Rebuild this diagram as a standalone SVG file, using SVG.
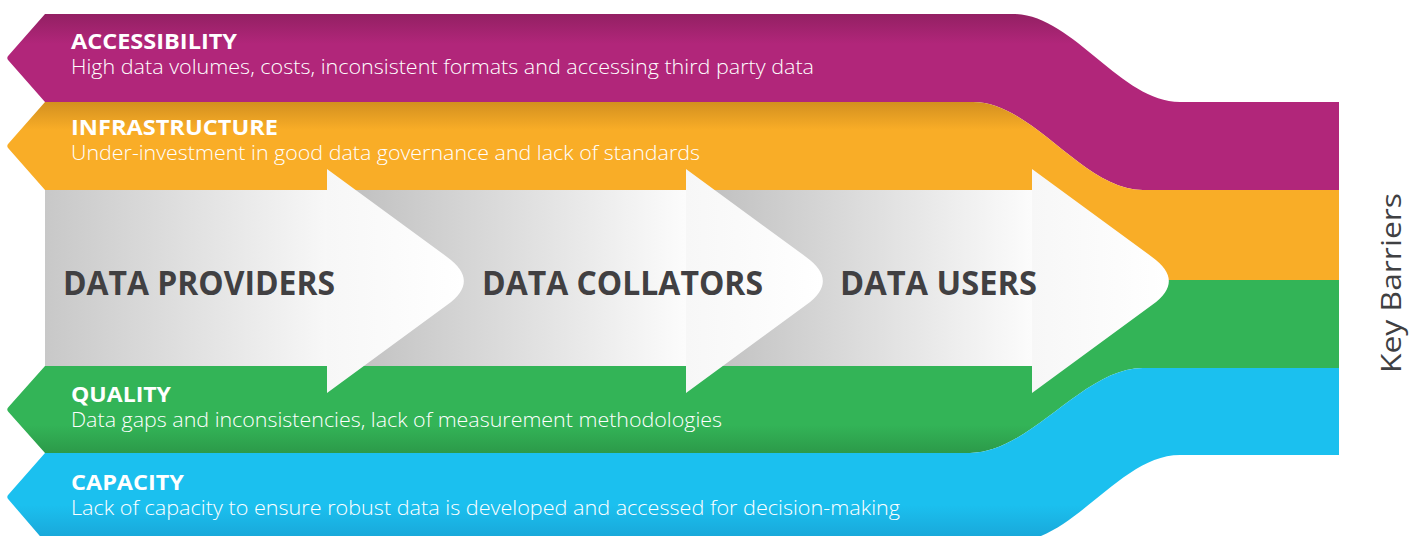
<svg xmlns="http://www.w3.org/2000/svg" width="1419" height="536" viewBox="0 0 1419 536">
  <style>
    .title { font-family: "Open Sans", "Liberation Sans", sans-serif; font-weight: 700; font-size: 21px; fill: #ffffff; }
    .desc { font-family: "Open Sans", "Liberation Sans", sans-serif; font-weight: 300; font-size: 20px; fill: #ffffff; }
    .stage { font-family: "Open Sans", "Liberation Sans", sans-serif; font-weight: 700; font-size: 34px; fill: #414042; }
    .side { font-family: "Open Sans", "Liberation Sans", sans-serif; font-weight: 500; font-size: 27px; fill: #3f4042; }
    .head { fill: url(#headFill); }
  </style>
  <defs>
    <!-- vertical shading of each barrier band -->
    <linearGradient id="magentaFill" gradientUnits="userSpaceOnUse" x1="0" y1="14" x2="0" y2="44">
      <stop offset="0" stop-color="#932063"/>
      <stop offset="1" stop-color="#b1267a"/>
    </linearGradient>
    <linearGradient id="orangeFill" gradientUnits="userSpaceOnUse" x1="0" y1="102" x2="0" y2="130">
      <stop offset="0" stop-color="#d3901f"/>
      <stop offset="1" stop-color="#f9ad27"/>
    </linearGradient>
    <linearGradient id="greenFill" gradientUnits="userSpaceOnUse" x1="0" y1="425" x2="0" y2="453">
      <stop offset="0" stop-color="#33b457"/>
      <stop offset="1" stop-color="#2c9a49"/>
    </linearGradient>
    <linearGradient id="cyanFill" gradientUnits="userSpaceOnUse" x1="0" y1="505" x2="0" y2="540">
      <stop offset="0" stop-color="#1bc0ef"/>
      <stop offset="1" stop-color="#19a6d8"/>
    </linearGradient>
    <!-- grey flow bodies -->
    <linearGradient id="body1Fill" gradientUnits="userSpaceOnUse" x1="45" y1="0" x2="330" y2="0">
      <stop offset="0" stop-color="#c8c8c8"/>
      <stop offset="1" stop-color="#f8f8f8"/>
    </linearGradient>
    <linearGradient id="body2Fill" gradientUnits="userSpaceOnUse" x1="327" y1="0" x2="686" y2="0">
      <stop offset="0" stop-color="#bcbcbc"/>
      <stop offset="1" stop-color="#fcfcfc"/>
    </linearGradient>
    <linearGradient id="body3Fill" gradientUnits="userSpaceOnUse" x1="686" y1="0" x2="1032" y2="0">
      <stop offset="0" stop-color="#bcbcbc"/>
      <stop offset="1" stop-color="#fcfcfc"/>
    </linearGradient>
    <linearGradient id="headFill" x1="0" y1="0" x2="1" y2="0">
      <stop offset="0" stop-color="#f7f7f7"/>
      <stop offset="1" stop-color="#ffffff"/>
    </linearGradient>
  </defs>

  <rect width="1419" height="536" fill="#ffffff"/>

  <!-- barrier bands -->
  <g id="accessibility">
    <path fill="url(#magentaFill)" d="M45,14 L1013,14 C1073,14 1120,102 1180,102 L1339,102 L1339,190 L1143,190 C1083,190 1033,102 973,102 L45,102 L8.5,60.5 Q6,58 8.5,55.5 Z"/>
    <text class="title" x="71" y="49" textLength="166" lengthAdjust="spacingAndGlyphs">ACCESSIBILITY</text>
    <text class="desc" x="71" y="74" textLength="743" lengthAdjust="spacingAndGlyphs">High data volumes, costs, inconsistent formats and accessing third party data</text>
  </g>

  <g id="infrastructure">
    <path fill="url(#orangeFill)" d="M45,102 L973,102 C1033,102 1083,190 1143,190 L1339,190 L1339,280 L1143,280 C1083,280 1033,190 973,190 L45,190 L8.5,148.5 Q6,146 8.5,143.5 Z"/>
    <text class="title" x="71" y="135" textLength="207" lengthAdjust="spacingAndGlyphs">INFRASTRUCTURE</text>
    <text class="desc" x="71" y="160" textLength="629" lengthAdjust="spacingAndGlyphs">Under-investment in good data governance and lack of standards</text>
  </g>

  <g id="quality">
    <path fill="url(#greenFill)" d="M45,366 L973,366 C1033,366 1083,280 1143,280 L1339,280 L1339,368 L1143,368 C1083,368 1030,453 970,453 L45,453 L8.5,412 Q6,409.5 8.5,407 Z"/>
    <text class="title" x="71" y="402" textLength="100" lengthAdjust="spacingAndGlyphs">QUALITY</text>
    <text class="desc" x="71" y="427" textLength="651" lengthAdjust="spacingAndGlyphs">Data gaps and inconsistencies, lack of measurement methodologies</text>
  </g>

  <g id="capacity">
    <path fill="url(#cyanFill)" d="M45,453 L970,453 C1030,453 1083,368 1143,368 L1339,368 L1339,455 L1180,455 C1120,455 1073,542 1013,542 L45,542 L8.5,499.5 Q6,497 8.5,494.5 Z"/>
    <text class="title" x="71" y="490" textLength="113" lengthAdjust="spacingAndGlyphs">CAPACITY</text>
    <text class="desc" x="71" y="515" textLength="829" lengthAdjust="spacingAndGlyphs">Lack of capacity to ensure robust data is developed and accessed for decision-making</text>
  </g>

  <!-- data flow stages, drawn last-to-first so each head overlaps the next body -->
  <g id="data-users">
    <rect x="686" y="190" width="350" height="176" fill="url(#body3Fill)"/>
    <path class="head" d="M1032,169 L1152.7,257.4 Q1185,281 1152.7,304.6 L1032,393 Z"/>
    <text class="stage" x="840" y="295" textLength="197" lengthAdjust="spacingAndGlyphs">DATA USERS</text>
  </g>

  <g id="data-collators">
    <rect x="327" y="190" width="363" height="176" fill="url(#body2Fill)"/>
    <path class="head" d="M686,169 L806.7,257.4 Q839,281 806.7,304.6 L686,393 Z"/>
    <text class="stage" x="482" y="295" textLength="281" lengthAdjust="spacingAndGlyphs">DATA COLLATORS</text>
  </g>

  <g id="data-providers">
    <rect x="45" y="190" width="286" height="176" fill="url(#body1Fill)"/>
    <path class="head" d="M327,169 L447.7,257.4 Q480,281 447.7,304.6 L327,393 Z"/>
    <text class="stage" x="63" y="295" textLength="272" lengthAdjust="spacingAndGlyphs">DATA PROVIDERS</text>
  </g>

  <g id="key-barriers">
    <text class="side" transform="translate(1401,373) rotate(-90)" x="0" y="0" textLength="180" lengthAdjust="spacingAndGlyphs">Key Barriers</text>
  </g>
</svg>
